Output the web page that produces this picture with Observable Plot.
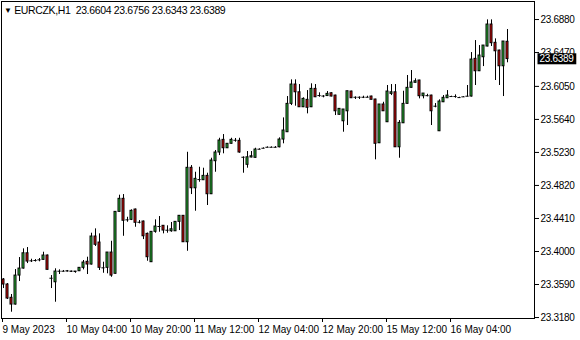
<!DOCTYPE html>
<html><head><meta charset="utf-8">
<script src="https://cdn.jsdelivr.net/npm/d3@7"></script>
<script src="https://cdn.jsdelivr.net/npm/@observablehq/plot@0.6"></script>
<style>
body{margin:0;background:#fff;}
#wrap{position:relative;width:580px;height:340px;font-family:"Liberation Sans",Arial,sans-serif;}
#hdr{position:absolute;left:4px;top:4px;font-size:10.5px;line-height:12px;letter-spacing:-0.35px;color:#000;white-space:pre;}
#hdr span.tri{font-size:8px;vertical-align:1px;}
</style></head><body><div id="wrap"><div id="hdr"></div></div>
<script>
const symbol = "EURCZK,H1";
const open = [23.3652,23.3590,23.3425,23.3341,23.3701,23.3788,23.3978,23.3884,23.3888,23.3896,
23.3896,23.3950,23.3668,23.3618,23.3755,23.3755,23.3755,23.3751,23.3745,23.3755,
23.3797,23.3872,23.3838,23.4186,23.4111,23.3797,23.3797,23.3987,23.3723,23.4492,
23.4654,23.4393,23.4393,23.4521,23.4363,23.4372,23.4219,23.3867,23.4244,23.4310,
23.4319,23.4264,23.4251,23.4251,23.4368,23.4443,23.4115,23.5039,23.4785,23.4893,
23.4885,23.4939,23.4711,23.5121,23.5229,23.5386,23.5282,23.5337,23.5381,23.5374,
23.5170,23.5076,23.5167,23.5163,23.5270,23.5282,23.5294,23.5294,23.5294,23.5294,
23.5390,23.5481,23.5833,23.6073,23.5977,23.5791,23.5883,23.5791,23.6019,23.5936,
23.5930,23.5930,23.5965,23.5936,23.5697,23.5617,23.5741,23.5986,23.5915,23.5915,
23.5915,23.5915,23.5924,23.5887,23.5344,23.5825,23.5605,23.5957,23.5977,23.5294,
23.5592,23.5833,23.6032,23.6094,23.6123,23.5928,23.5935,23.5936,23.5804,23.5493,
23.5853,23.5903,23.5924,23.5924,23.5911,23.5920,23.5928,23.5924,23.6392,23.6238,
23.6412,23.6545,23.6818,23.6591,23.6495,23.6300,23.6604];
const high = [23.3664,23.3602,23.3466,23.3776,23.3925,23.4033,23.4049,23.3904,23.3900,23.3913,
23.3991,23.3956,23.3701,23.3785,23.3772,23.3764,23.3764,23.3757,23.3751,23.3801,
23.3888,23.3929,23.4227,23.4281,23.4219,23.3867,23.3987,23.4127,23.4496,23.4699,
23.4707,23.4425,23.4517,23.4527,23.4384,23.4378,23.4229,23.4248,23.4393,23.4434,
23.4322,23.4319,23.4360,23.4372,23.4446,23.4446,23.5232,23.5067,23.4984,23.5046,
23.5034,23.4972,23.5158,23.5254,23.5406,23.5452,23.5340,23.5406,23.5403,23.5406,
23.5175,23.5241,23.5241,23.5282,23.5275,23.5287,23.5299,23.5299,23.5303,23.5411,
23.5659,23.5924,23.6131,23.6131,23.6073,23.5908,23.5998,23.6082,23.6073,23.5970,
23.5935,23.5986,23.5970,23.5940,23.5775,23.5763,23.5990,23.5990,23.5920,23.5920,
23.5928,23.5928,23.5928,23.5890,23.5825,23.5853,23.6061,23.6073,23.6073,23.5626,
23.5990,23.6185,23.6247,23.6144,23.6126,23.5961,23.5952,23.5940,23.5837,23.5883,
23.5936,23.5998,23.5928,23.5945,23.5915,23.5924,23.6061,23.6470,23.6619,23.6557,
23.6557,23.6876,23.6876,23.6640,23.6499,23.6607,23.6756];
const low = [23.3540,23.3404,23.3246,23.3335,23.3627,23.3782,23.3850,23.3863,23.3869,23.3872,
23.3894,23.3770,23.3540,23.3370,23.3714,23.3745,23.3745,23.3739,23.3730,23.3751,
23.3772,23.3714,23.3832,23.4062,23.3764,23.3730,23.3723,23.3680,23.3720,23.4490,
23.4189,23.4363,23.4384,23.4301,23.4343,23.4148,23.3879,23.3863,23.4227,23.4239,
23.4219,23.4227,23.4239,23.4248,23.4260,23.4115,23.4003,23.4707,23.4500,23.4860,
23.4881,23.4571,23.4707,23.4984,23.5191,23.5213,23.5278,23.5334,23.5357,23.5220,
23.4972,23.5034,23.5163,23.5160,23.5262,23.5275,23.5287,23.5287,23.5285,23.5287,
23.5337,23.5477,23.5812,23.5804,23.5791,23.5787,23.5709,23.5787,23.5911,23.5915,
23.5908,23.5924,23.5920,23.5688,23.5694,23.5481,23.5564,23.5899,23.5887,23.5887,
23.5899,23.5908,23.5883,23.5138,23.5340,23.5741,23.5601,23.5936,23.5291,23.5158,
23.5589,23.5831,23.6030,23.6092,23.5895,23.5895,23.5920,23.5564,23.5784,23.5489,
23.5849,23.5899,23.5918,23.5903,23.5905,23.5915,23.5920,23.5918,23.6061,23.6234,
23.6296,23.6541,23.6545,23.6123,23.6061,23.5924,23.6343];
const close = [23.3590,23.3416,23.3341,23.3701,23.3788,23.3978,23.3875,23.3884,23.3888,23.3896,
23.3950,23.3772,23.3668,23.3751,23.3755,23.3755,23.3751,23.3747,23.3751,23.3797,
23.3863,23.3838,23.4186,23.4083,23.3797,23.3797,23.3987,23.3701,23.4492,23.4654,
23.4381,23.4393,23.4505,23.4356,23.4363,23.4189,23.3929,23.4244,23.4310,23.4310,
23.4260,23.4264,23.4276,23.4368,23.4443,23.4115,23.5039,23.4785,23.4902,23.4893,
23.4939,23.4711,23.5129,23.5229,23.5378,23.5282,23.5337,23.5386,23.5381,23.5229,
23.5170,23.5170,23.5183,23.5266,23.5270,23.5282,23.5294,23.5294,23.5294,23.5390,
23.5502,23.5833,23.6073,23.5977,23.5791,23.5895,23.5784,23.6019,23.5915,23.5936,
23.5930,23.5957,23.5924,23.5741,23.5771,23.5763,23.5990,23.5903,23.5915,23.5915,
23.5915,23.5915,23.5883,23.5337,23.5825,23.5741,23.5986,23.5977,23.5294,23.5597,
23.5833,23.6032,23.6098,23.6114,23.5928,23.5961,23.5935,23.5741,23.5804,23.5862,
23.5908,23.5936,23.5924,23.5924,23.5911,23.5920,23.5928,23.6383,23.6238,23.6433,
23.6557,23.6818,23.6586,23.6486,23.6300,23.6607,23.6389];
const xTickBars = [0,16,32,48,64,80,96,112];
const xTickLabels = ["9 May 2023","10 May 04:00","10 May 20:00","11 May 12:00","12 May 04:00","12 May 20:00","15 May 12:00","16 May 04:00"];
const yTicks = [23.3180,23.3590,23.4000,23.4410,23.4820,23.5230,23.5640,23.6050,23.6470,23.6880];

const candles = open.map((o, i) => ({i, o, h: high[i], l: low[i], c: close[i]}));
const dojis = candles.filter(d => d.o === d.c);
const bodies = candles.filter(d => d.o !== d.c);
const last = candles[candles.length - 1];
const fmt = v => v.toFixed(4);

document.getElementById("hdr").innerHTML =
  '<span class="tri">\u25BC</span> ' + symbol + "  " + [last.o, last.h, last.l, last.c].map(fmt).join(" ");

const GREEN = "#2fc23a", RED = "#e00a0a";
const plot = Plot.plot({
  width: 580, height: 340,
  marginTop: 1, marginLeft: 1, marginRight: 46, marginBottom: 22,
  style: {fontFamily: '"Liberation Sans", Arial, sans-serif', fontSize: "10px", background: "#fff", color: "#000"},
  x: {domain: [-0.5, 132.75], label: null},
  y: {domain: [23.3168, 23.7104], label: null},
  marks: [
    Plot.frame({stroke: "#000"}),
    Plot.ruleX(candles, {x: "i", y1: "l", y2: "h", stroke: "#000", strokeWidth: 1}),
    Plot.rect(bodies, {x1: d => d.i - 0.375, x2: d => d.i + 0.375, y1: "o", y2: "c",
      insetTop: -0.5, insetBottom: -0.5, fill: "#000"}),
    Plot.rect(bodies, {x1: d => d.i - 0.125, x2: d => d.i + 0.125, y1: "o", y2: "c",
      insetTop: 0.5, insetBottom: 0.5, fill: d => d.c > d.o ? GREEN : RED}),
    Plot.ruleY(dojis, {y: "o", x1: d => d.i - 0.4, x2: d => d.i + 0.4, stroke: "#000", strokeWidth: 1}),
    Plot.axisY(yTicks, {anchor: "right", tickSize: 4, tickPadding: 2, tickFormat: fmt, fill: "#000", label: null}),
    Plot.axisX(xTickBars, {anchor: "bottom", tickSize: 4, tickPadding: 3, textAnchor: "start", dx: -1,
      tickFormat: d => xTickLabels[xTickBars.indexOf(d)], fill: "#000", label: null}),
    Plot.text([last], {y: "c", frameAnchor: "right", dx: 5, textAnchor: "start", text: d => fmt(d.c),
      fill: "#fff"})
  ]
});
document.getElementById("wrap").appendChild(plot);
plot.querySelectorAll('g[aria-label="y-axis tick label"] text').forEach(e => e.setAttribute("letter-spacing", "-0.3"));
const t = Array.from(plot.querySelectorAll("text")).filter(e => e.textContent === fmt(last.c)).pop();
if (t) {
  t.setAttribute("letter-spacing", "-0.3");
  const b = t.getBBox();
  const r = document.createElementNS("http://www.w3.org/2000/svg", "rect");
  r.setAttribute("x", b.x - 2); r.setAttribute("y", b.y);
  r.setAttribute("width", b.width + 4); r.setAttribute("height", b.height);
  r.setAttribute("fill", "#000");
  if (t.getAttribute("transform")) r.setAttribute("transform", t.getAttribute("transform"));
  t.parentNode.insertBefore(r, t);
}
</script></body></html>
